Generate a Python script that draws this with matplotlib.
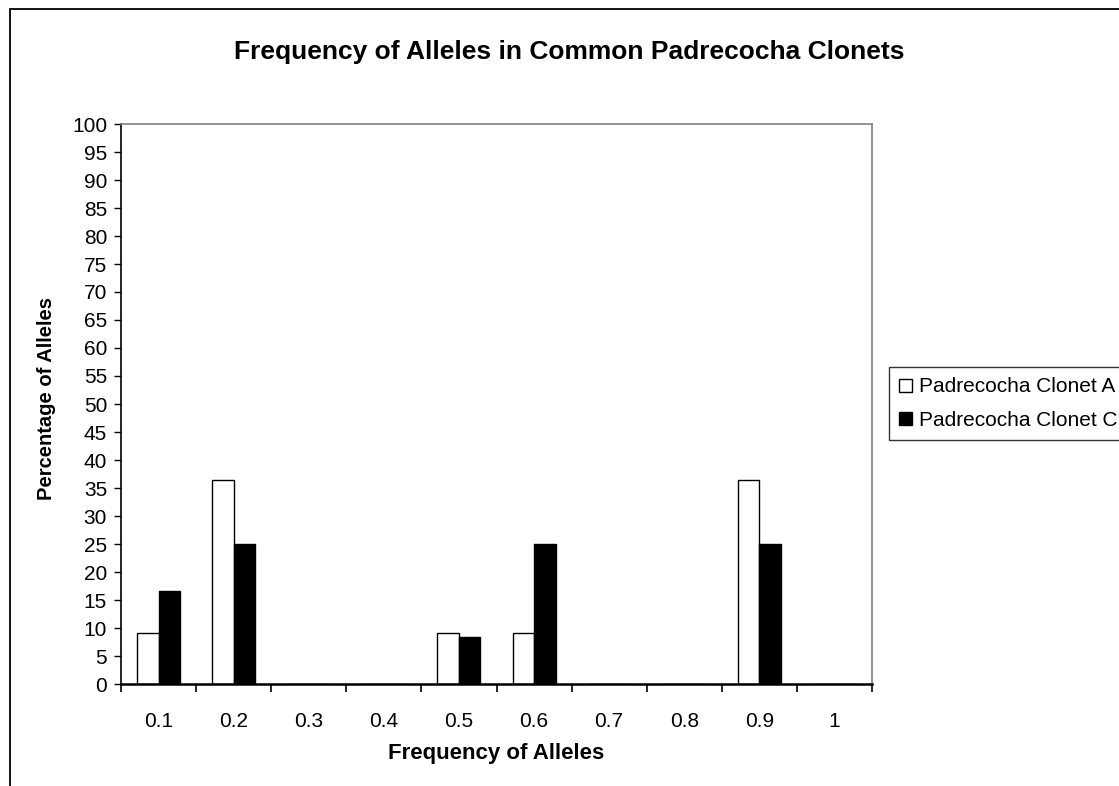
import matplotlib.pyplot as plt
import numpy as np
from matplotlib.patches import Rectangle
from matplotlib.ticker import FixedLocator, NullFormatter

plt.rcParams["font.family"] = ["Liberation Sans", "DejaVu Sans"]

freq_labels = ["0.1", "0.2", "0.3", "0.4", "0.5", "0.6", "0.7", "0.8", "0.9", "1"]
clonet_a = [9.09, 36.36, 0, 0, 9.09, 9.09, 0, 0, 36.36, 0]
clonet_c = [16.67, 25.0, 0, 0, 8.33, 25.0, 0, 0, 25.0, 0]
series_names = ["Padrecocha Clonet A", "Padrecocha Clonet C"]

fig = plt.figure(figsize=(11.19, 7.86), dpi=100)
ax = fig.add_axes([121 / 1119, 1 - 684 / 786, 751 / 1119, 560 / 786])

# frame around the whole chart (right/bottom edges fall off the canvas)
fig.patches.append(Rectangle((9.5 / 1119, -0.1), 1.2, 1 - 9.5 / 786 + 0.1,
                             transform=fig.transFigure, fill=False,
                             edgecolor="black", linewidth=1.3))

n = len(freq_labels)
centers = np.arange(n) + 0.5
width = 1 / 3.5
ax.bar(centers - width / 2, clonet_a, width, color="white", edgecolor="black",
       linewidth=1.0, label=series_names[0])
ax.bar(centers + width / 2, clonet_c, width, color="black", edgecolor="black",
       linewidth=1.0, label=series_names[1])

ax.set_xlim(0, n)
ax.set_ylim(0, 100)
ax.set_yticks(np.arange(0, 101, 5))
ax.tick_params(axis="y", direction="out", length=5, width=1, pad=5, labelsize=15)

ax.xaxis.set_major_locator(FixedLocator(np.arange(n + 1)))
ax.xaxis.set_major_formatter(NullFormatter())
ax.xaxis.set_minor_locator(FixedLocator(centers))
ax.set_xticklabels(freq_labels, minor=True)
ax.tick_params(axis="x", which="major", direction="out", length=6, width=1.2)
ax.tick_params(axis="x", which="minor", length=0, pad=20, labelsize=15)

for side in ("top", "right"):
    ax.spines[side].set_color("#808080")
    ax.spines[side].set_linewidth(1.2)
ax.spines["left"].set_linewidth(1.2)
ax.spines["bottom"].set_linewidth(1.8)

ax.set_xlabel("Frequency of Alleles", fontsize=16, fontweight="bold")
ax.set_ylabel("Percentage of Alleles", fontsize=14.5, fontweight="bold")
ax.xaxis.set_label_coords(0.5, -(753 - 684) / 560, transform=ax.transAxes)
ax.xaxis.label.set_va("center")
ax.yaxis.set_label_coords(-(121 - 46.5) / 751, (684 - 399) / 560)
ax.yaxis.label.set_va("center")
fig.text(0.509, 1 - 52 / 786, "Frequency of Alleles in Common Padrecocha Clonets",
         ha="center", va="center", fontsize=19, fontweight="bold")

leg = fig.legend(loc="upper left", bbox_to_anchor=(889 / 1119, 1 - 367 / 786),
                 fontsize=15, frameon=True, fancybox=False, edgecolor="black",
                 handlelength=0.58, handleheight=0.58, handletextpad=0.38,
                 borderpad=0.5, labelspacing=0.68, borderaxespad=0)
leg.get_frame().set_linewidth(1.0)

fig.savefig("out.png", dpi=100)
